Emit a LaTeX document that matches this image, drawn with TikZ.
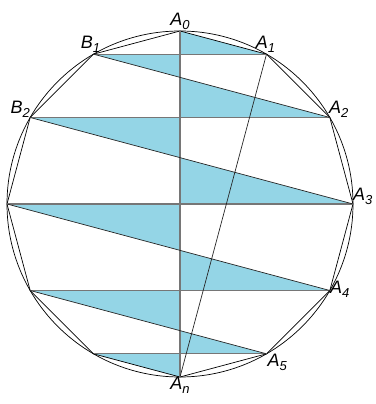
\documentclass[tikz,border=0pt]{standalone}
\usepackage{fontspec}
\setmainfont{Liberation Sans}
\usepackage{tikz}
\usetikzlibrary{calc,positioning}
\definecolor{shadeblue}{RGB}{148,213,230}
\definecolor{chordgray}{RGB}{118,118,118}
\newcommand{\vname}[2]{\textit{#1}\raisebox{-4pt}{\fontsize{13}{13}\selectfont\textit{#2}}}
\tikzset{
  outline/.style={line width=0.7pt,black},
  chord/.style={line width=1.1pt,chordgray},
  slant/.style={line width=0.7pt,black!85},
  strip/.style={fill=shadeblue,draw=none},
  vlabel/.style={font=\fontsize{18}{18}\selectfont,inner sep=1pt}
}

\begin{document}
\begin{tikzpicture}[x=1pt,y=1pt]
  \useasboundingbox (0,0) rectangle (375,404);
  \coordinate (O) at (180,200);
  \coordinate (A0) at ($(O)+(90:173)$);
  \coordinate (A1) at ($(O)+(60:173)$);
  \coordinate (A2) at ($(O)+(30:173)$);
  \coordinate (A3) at ($(O)+(0:173)$);
  \coordinate (A4) at ($(O)+(-30:173)$);
  \coordinate (A5) at ($(O)+(-60:173)$);
  \coordinate (A6) at ($(O)+(-90:173)$);
  \coordinate (B1) at ($(O)+(120:173)$);
  \coordinate (B2) at ($(O)+(150:173)$);
  \coordinate (B3) at ($(O)+(180:173)$);
  \coordinate (B4) at ($(O)+(210:173)$);
  \coordinate (B5) at ($(O)+(240:173)$);

  % where the slanted chords cut the axis
  \coordinate (X1) at (intersection of B1--A2 and A0--A6);
  \coordinate (X2) at (intersection of B2--A3 and A0--A6);
  \coordinate (X3) at (intersection of B3--A4 and A0--A6);
  \coordinate (X4) at (intersection of B4--A5 and A0--A6);

  % shaded triangles
  \fill[strip] (A0) -- (A1) -- (A1 -| A0) -- cycle;
  \fill[strip] (B1) -- (B1 -| A0) -- (X1) -- cycle;
  \fill[strip] (X1) -- (A2 -| A0) -- (A2) -- cycle;
  \fill[strip] (B2) -- (B2 -| A0) -- (X2) -- cycle;
  \fill[strip] (X2) -- (A3 -| A0) -- (A3) -- cycle;
  \fill[strip] (B3) -- (B3 -| A0) -- (X3) -- cycle;
  \fill[strip] (X3) -- (A4 -| A0) -- (A4) -- cycle;
  \fill[strip] (B4) -- (B4 -| A0) -- (X4) -- cycle;
  \fill[strip] (X4) -- (A5 -| A0) -- (A5) -- cycle;
  \fill[strip] (B5) -- (B5 -| A0) -- (A6) -- cycle;

  \draw[outline] (O) circle[radius=173];
  \draw[outline] (A0) -- (A1) -- (A2) -- (A3) -- (A4) -- (A5) -- (A6)
    -- (B5) -- (B4) -- (B3) -- (B2) -- (B1) -- cycle;

  \draw[chord] (A0) -- (A6);
  \draw[chord] (B1) -- (A1);
  \draw[chord] (B2) -- (A2);
  \draw[chord] (B3) -- (A3);
  \draw[chord] (B4) -- (A4);
  \draw[chord] (B5) -- (A5);

  \draw[slant] (B1) -- (A2);
  \draw[slant] (B2) -- (A3);
  \draw[slant] (B3) -- (A4);
  \draw[slant] (B4) -- (A5);
  \draw[slant] (A1) -- (A6);

  \node[vlabel,above=0pt] (lA0) at (A0) {\vname{A}{0}};
  \node[vlabel,above=0pt,xshift=-1pt] (lA1) at (A1) {\vname{A}{1}};
  \node[vlabel,above right=-1pt and -2pt] (lA2) at (A2) {\vname{A}{2}};
  \node[vlabel,above right=-2pt and -1pt] (lA3) at (A3) {\vname{A}{3}};
  \node[vlabel,right=-1pt,yshift=1pt] (lA4) at (A4) {\vname{A}{4}};
  \node[vlabel,below right=-1pt and 0pt] (lA5) at (A5) {\vname{A}{5}};
  \node[vlabel,below=-1pt] (lAn) at (A6) {\vname{A}{n}};
  \node[vlabel,above=0pt,xshift=-3pt] (lB1) at (B1) {\vname{B}{1}};
  \node[vlabel,above left=-1pt and -1pt] (lB2) at (B2) {\vname{B}{2}};
\end{tikzpicture}
\end{document}
